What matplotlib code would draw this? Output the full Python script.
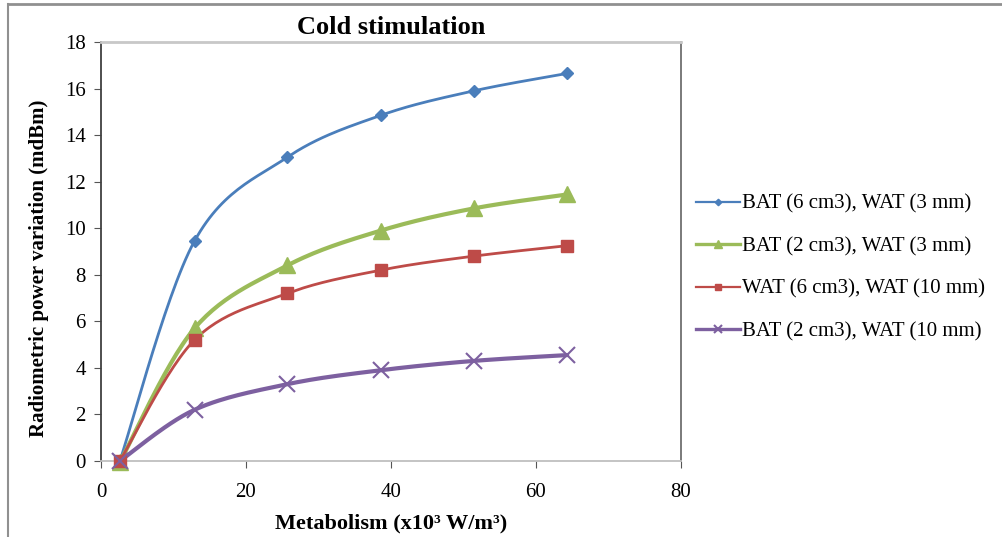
import matplotlib
matplotlib.use('Agg')
import matplotlib.pyplot as plt
from matplotlib.lines import Line2D
import numpy as np

plt.rcParams['font.family'] = ['Liberation Serif', 'DejaVu Serif']

# -----------------------------------------------
# data

metabolism = [2.6, 12.9, 25.7, 38.6, 51.4, 64.3]

bat6_wat3 = [0.0, 9.45, 13.05, 14.85, 15.9, 16.65]
bat2_wat3 = [-0.05, 5.7, 8.4, 9.9, 10.85, 11.45]
wat6_wat10 = [0.0, 5.2, 7.2, 8.2, 8.8, 9.25]
bat2_wat10 = [0.0, 2.2, 3.3, 3.9, 4.3, 4.55]

labels = ['BAT (6 cm3), WAT (3 mm)', 'BAT (2 cm3), WAT (3 mm)',
          'WAT (6 cm3), WAT (10 mm)', 'BAT (2 cm3), WAT (10 mm)']

# -----------------------------------------------

def smooth(x, y, n=30):
    # excel-like smoothed line (catmull-rom through the points)
    p = np.column_stack([x, y]).astype(float)
    p = np.vstack([p[0], p, p[-1]])
    out = []
    for i in range(1, len(p) - 2):
        p0, p1, p2, p3 = p[i - 1], p[i], p[i + 1], p[i + 2]
        c1 = p1 + (p2 - p0) / 6
        c2 = p2 - (p3 - p1) / 6
        t = np.linspace(0, 1, n)[:, None]
        seg = ((1 - t) ** 3) * p1 + 3 * ((1 - t) ** 2) * t * c1 + 3 * (1 - t) * t ** 2 * c2 + t ** 3 * p2
        out.append(seg)
    out = np.vstack(out)
    return out[:, 0], out[:, 1]

# -------------------------------------------------

fig = plt.figure(figsize=(10.03, 5.37), dpi=100)
ax = fig.add_axes([101 / 1003, 1 - 461 / 537, 580 / 1003, 419 / 537])

styles = [
    dict(color='#4A7EBB', lw=2.0, marker='D', ms=6),
    dict(color='#9BBB59', lw=3.0, marker='^', ms=11),
    dict(color='#BE4B48', lw=2.0, marker='s', ms=8),
    dict(color='#7D60A0', lw=3.0, marker='x', ms=11, mew=1.5),
]
series = [bat6_wat3, bat2_wat3, wat6_wat10, bat2_wat10]

handles = []
for vals, st, lab in zip(series, styles, labels):
    sx, sy = smooth(metabolism, vals)
    ax.plot(sx, sy, color=st['color'], lw=st['lw'], solid_capstyle='round', zorder=3)
    ax.plot(metabolism, vals, ls='none', marker=st['marker'], ms=st['ms'],
            color=st['color'], mew=st.get('mew', 1), zorder=4, clip_on=False)
    handles.append(Line2D([], [], color=st['color'], lw=st['lw'] * 0.8, marker=st['marker'],
                          ms=st['ms'] * 0.55, mew=st.get('mew', 1)))

ax.set_xlim(0, 80)
ax.set_ylim(0, 18)
ax.set_xticks([0, 20, 40, 60, 80])
ax.set_yticks(range(0, 19, 2))
ax.tick_params(axis='both', labelsize=15, direction='out', length=5, colors='#555555',
               labelcolor='black', pad=6)
ax.tick_params(axis='x', pad=11)

ax.spines['left'].set_color('#404040')
ax.spines['left'].set_linewidth(1.3)
ax.spines['bottom'].set_color('#BFBFBF')
ax.spines['bottom'].set_linewidth(1.3)
ax.spines['top'].set_color('#C8C8C8')
ax.spines['top'].set_linewidth(2)
ax.spines['right'].set_color('#707070')
ax.spines['right'].set_linewidth(1.3)

ax.set_title('Cold stimulation', fontsize=19, fontweight='bold', pad=6)
ax.set_xlabel('Metabolism (x10³ W/m³)', fontsize=16, fontweight='bold', labelpad=8)
ax.set_ylabel('Radiometric power variation (mdBm)', fontsize=15, fontweight='bold')
ax.yaxis.set_label_coords(-0.09, 0.46)

fig.legend(handles, labels, loc='upper left', bbox_to_anchor=(688 / 1003, 1 - 186 / 537),
           frameon=False, fontsize=15, handlelength=2.1, handletextpad=0.1,
           labelspacing=1.1, borderaxespad=0)

# outer chart frame (top and left edges)
fig.add_artist(Line2D([8 / 1003, 1], [1 - 4 / 537, 1 - 4 / 537], color='#909090', lw=2,
                      transform=fig.transFigure))
fig.add_artist(Line2D([8 / 1003, 8 / 1003], [0, 1 - 4 / 537], color='#909090', lw=1.5,
                      transform=fig.transFigure))

fig.savefig('out.png', dpi=100)
